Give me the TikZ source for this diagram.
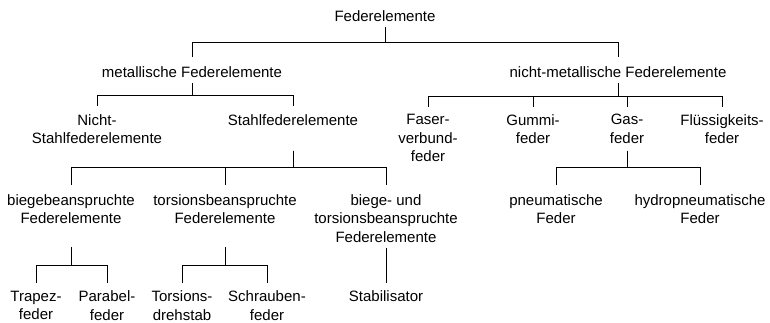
\documentclass[tikz,border=0pt]{standalone}
\usepackage{fontspec}
\setmainfont{Liberation Sans}

\begin{document}
\begin{tikzpicture}[x=1pt, y=1pt,
	elem/.style={anchor=north, align=center, inner sep=0pt, font=\fontsize{15}{18.5}\selectfont},
	conn/.style={line width=0.9pt}]
	\useasboundingbox (0,0) rectangle (770,-322);
	% Ebene 0 und 1
	\node[elem] (fe) at (385,-10) {Federelemente};
	\node[elem] (metal) at (192,-66) {metallische Federelemente};
	\node[elem] (nmetal) at (618,-66) {nicht-metallische Federelemente};
	% Ebene 2
	\node[elem] (nstahl) at (97,-114) {Nicht-\\Stahlfederelemente};
	\node[elem] (stahl) at (293,-114) {Stahlfederelemente};
	\node[elem] (faser) at (428,-114) {Faser-\\verbund-\\feder};
	\node[elem] (gummi) at (533,-114) {Gummi-\\feder};
	\node[elem] (gas) at (627,-114) {Gas-\\feder};
	\node[elem] (fluid) at (722,-114) {Flüssigkeits-\\feder};
	% Ebene 3
	\node[elem] (biege) at (71,-194) {biegebeanspruchte\\Federelemente};
	\node[elem] (torsion) at (225,-194) {torsionsbeanspruchte\\Federelemente};
	\node[elem] (biegetor) at (386,-194) {biege- und\\torsionsbeanspruchte\\Federelemente};
	\node[elem] (pneu) at (556,-194) {pneumatische\\Feder};
	\node[elem] (hydro) at (700,-194) {hydropneumatische\\Feder};
	% Ebene 4
	\node[elem] (trapez) at (36,-290.5) {Trapez-\\feder};
	\node[elem] (parabel) at (107,-290.5) {Parabel-\\feder};
	\node[elem] (drehstab) at (182,-290.5) {Torsions-\\drehstab};
	\node[elem] (schraube) at (267,-290.5) {Schrauben-\\feder};
	\node[elem] (stabi) at (386,-290.5) {Stabilisator};

	% Verbindungen
	\foreach \c in {metal,nmetal}
		\draw[conn] (fe.north) ++(0,-17) -- ++(0,-15.7) -| ([yshift=9pt]\c.north);
	\foreach \c in {nstahl,stahl}
		\draw[conn] (metal.north) ++(0,-17) -- ++(0,-12) -| ([yshift=8pt]\c.north);
	\foreach \c in {faser,gummi,gas,fluid}
		\draw[conn] (nmetal.north) ++(0,-17) -- ++(0,-13) -| ([yshift=7.5pt]\c.north);
	\foreach \c in {biege,torsion,biegetor}
		\draw[conn] (stahl.north) ++(0,-36.5) -- ++(0,-16.5) -| ([yshift=9pt]\c.north);
	\foreach \c in {pneu,hydro}
		\draw[conn] (gas.north) ++(0,-36.5) -- ++(0,-16.5) -| ([yshift=9pt]\c.north);
	\foreach \c in {trapez,parabel}
		\draw[conn] (biege.north) ++(0,-53) -- ++(0,-18) -| ([yshift=8pt]\c.north);
	\foreach \c in {drehstab,schraube}
		\draw[conn] (torsion.north) ++(0,-53) -- ++(0,-18) -| ([yshift=8pt]\c.north);
	\draw[conn] (biegetor.north) ++(0,-54) -- ([yshift=8pt]stabi.north);
\end{tikzpicture}
\end{document}
